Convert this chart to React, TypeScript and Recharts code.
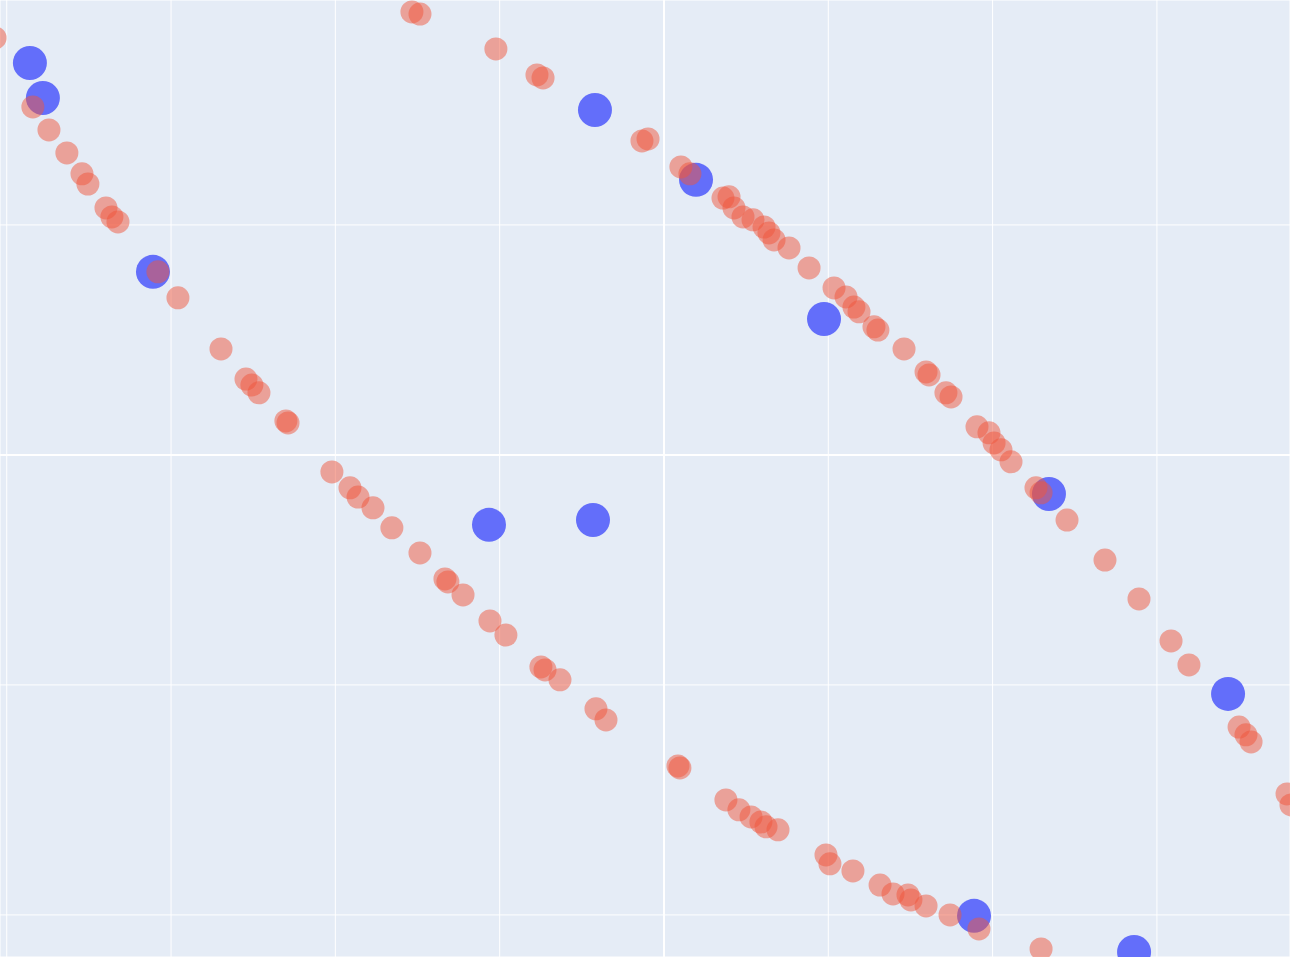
import {
  ScatterChart, Scatter, XAxis, YAxis, CartesianGrid, ReferenceLine,
} from "recharts";

// values, in grid units (one gridline = 1)
const lowerCurve: [number, number][] = [
  [-4.071, 1.813], [-3.841, 1.513], [-3.743, 1.413], [-3.634, 1.313], [-3.542, 1.222],
  [-3.506, 1.178], [-3.396, 1.074], [-3.36, 1.035], [-3.323, 1.013], [-3.08, 0.796],
  [-2.958, 0.683], [-2.696, 0.461], [-2.544, 0.33], [-2.508, 0.304], [-2.465, 0.27],
  [-2.301, 0.148], [-2.288, 0.139], [-2.021, -0.074], [-1.911, -0.143], [-1.862, -0.183],
  [-1.771, -0.23], [-1.656, -0.317], [-1.485, -0.426], [-1.333, -0.539], [-1.315, -0.552],
  [-1.223, -0.609], [-1.059, -0.722], [-0.962, -0.783], [-0.749, -0.922], [-0.724, -0.935],
  [-0.633, -0.978], [-0.414, -1.104], [-0.353, -1.152], [0.085, -1.352], [0.097, -1.361],
  [0.377, -1.5], [0.456, -1.543], [0.53, -1.574], [0.59, -1.596], [0.621, -1.617],
  [0.694, -1.63], [0.986, -1.739], [1.01, -1.778], [1.15, -1.809], [1.315, -1.87],
  [1.394, -1.909], [1.485, -1.913], [1.503, -1.935], [1.595, -1.961], [1.741, -2.0],
  [1.917, -2.061], [2.295, -2.148],
];

const upperCurve: [number, number][] = [
  [-1.534, 1.926], [-1.485, 1.917], [-1.023, 1.765], [-0.773, 1.652], [-0.736, 1.639],
  [-0.134, 1.365], [-0.097, 1.374], [0.103, 1.252], [0.158, 1.222], [0.359, 1.117],
  [0.396, 1.122], [0.426, 1.074], [0.481, 1.035], [0.542, 1.022], [0.609, 0.991],
  [0.639, 0.965], [0.67, 0.935], [0.761, 0.9], [0.883, 0.813], [1.035, 0.726],
  [1.108, 0.687], [1.156, 0.643], [1.187, 0.622], [1.278, 0.557], [1.302, 0.543],
  [1.461, 0.461], [1.595, 0.361], [1.613, 0.348], [1.716, 0.27], [1.747, 0.252],
  [1.905, 0.122], [1.978, 0.096], [2.009, 0.052], [2.051, 0.022], [2.112, -0.03],
  [2.264, -0.143], [2.295, -0.165], [2.453, -0.283], [2.684, -0.457], [2.891, -0.626],
  [3.086, -0.809], [3.195, -0.913], [3.5, -1.183], [3.542, -1.217], [3.573, -1.248],
  [3.792, -1.474], [3.816, -1.522],
];

const bluePoints: [number, number][] = [
  [-3.859, 1.704], [-3.78, 1.552], [-3.11, 0.796], [-1.065, -0.304], [-0.432, -0.283],
  [-0.42, 1.5], [0.195, 1.196], [0.974, 0.591], [2.343, -0.17], [3.433, -1.039],
  [1.887, -2.004], [2.861, -2.161],
];

const xTicks = [-4, -3, -2, -1, 0, 1, 2, 3];
const yTicks = [-2, -1, 0, 1];

const toRows = (pts: [number, number][]) => pts.map(([x, y]) => ({ x, y }));

const RedDot = (p: any) => (
  <circle cx={p.cx} cy={p.cy} r={11.5} fill="#EF553B" fillOpacity={0.5} />
);
const BlueDot = (p: any) => (
  <circle cx={p.cx} cy={p.cy} r={17} fill="#636EFA" />
);

export default function App() {
  return (
    <div style={{ position: "absolute", left: 0, top: 0 }}>
      <ScatterChart width={1290} height={957} margin={{ top: 0, right: 0, bottom: 0, left: 0 }}>
        <CartesianGrid stroke="#ffffff" strokeWidth={1} fill="#E5ECF6" fillOpacity={1} />
        <XAxis
          type="number"
          dataKey="x"
          domain={[-4.041, 3.81]}
          ticks={xTicks}
          allowDataOverflow
          hide
        />
        <YAxis
          type="number"
          dataKey="y"
          domain={[-2.183, 1.978]}
          ticks={yTicks}
          allowDataOverflow
          hide
        />
        <ReferenceLine x={0} stroke="#ffffff" strokeWidth={2} />
        <ReferenceLine y={0} stroke="#ffffff" strokeWidth={2} />
        <Scatter data={toRows(bluePoints)} shape={BlueDot} isAnimationActive={false} />
        <Scatter data={toRows(lowerCurve)} shape={RedDot} isAnimationActive={false} />
        <Scatter data={toRows(upperCurve)} shape={RedDot} isAnimationActive={false} />
      </ScatterChart>
    </div>
  );
}
